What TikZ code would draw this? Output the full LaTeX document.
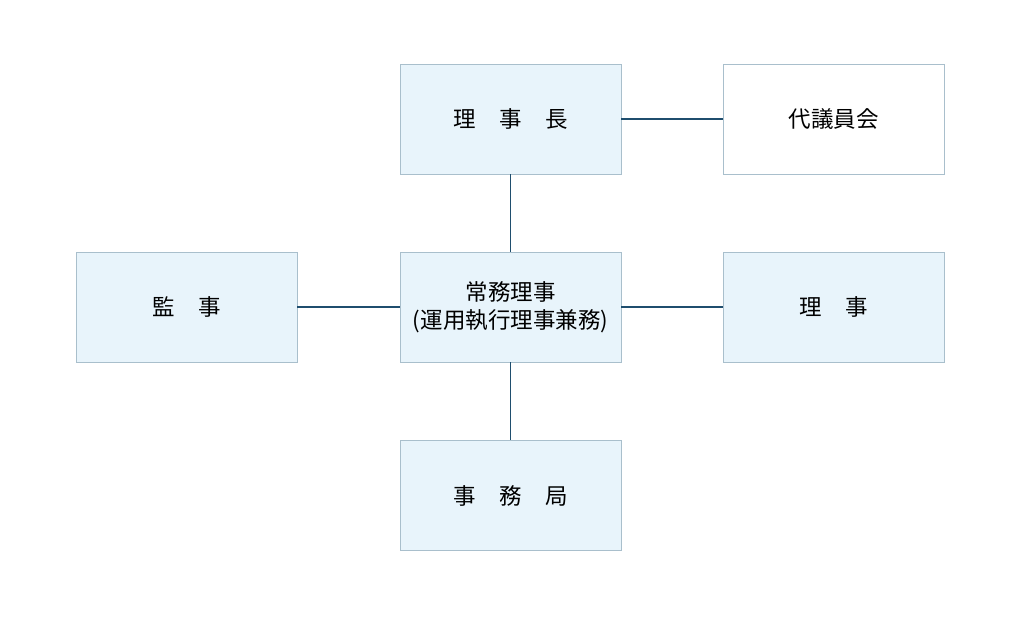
\documentclass[tikz,border=0pt]{standalone}
\usepackage{fontspec}
\setmainfont{Noto Sans CJK JP}
\definecolor{boxfill}{HTML}{E8F4FB}
\definecolor{boxline}{HTML}{A9BFCC}
\definecolor{linkline}{HTML}{1F4E6E}
\begin{document}
\begin{tikzpicture}[x=1pt,y=-1pt,
	every node/.style={draw=boxline, fill=boxfill, minimum width=221pt, minimum height=110pt, inner sep=0pt, align=center, font=\fontsize{22.5}{28}\selectfont},
	every edge/.style={draw=linkline, line width=1.2pt}]
	
	\useasboundingbox (0,0) rectangle (1024,616);
	
	\node (chair) at (510.5,119) {理\hspace{23.5pt}事\hspace{23.5pt}長};
	\node[fill=white] (council) at (833.5,119) {代議員会};
	\node (auditor) at (186.5,307) {監\hspace{23.5pt}事};
	\node (managing) at (510.5,307) {常務理事\\(運用執行理事兼務)};
	\node (director) at (833.5,307) {理\hspace{23.5pt}事};
	\node (office) at (510.5,495.5) {事\hspace{23.5pt}務\hspace{23.5pt}局};
	
	\path (chair) edge (council);
	\path (chair) edge (managing);
	\path (auditor) edge (managing);
	\path (managing) edge (director);
	\path (managing) edge (office);
	
\end{tikzpicture}
\end{document}
